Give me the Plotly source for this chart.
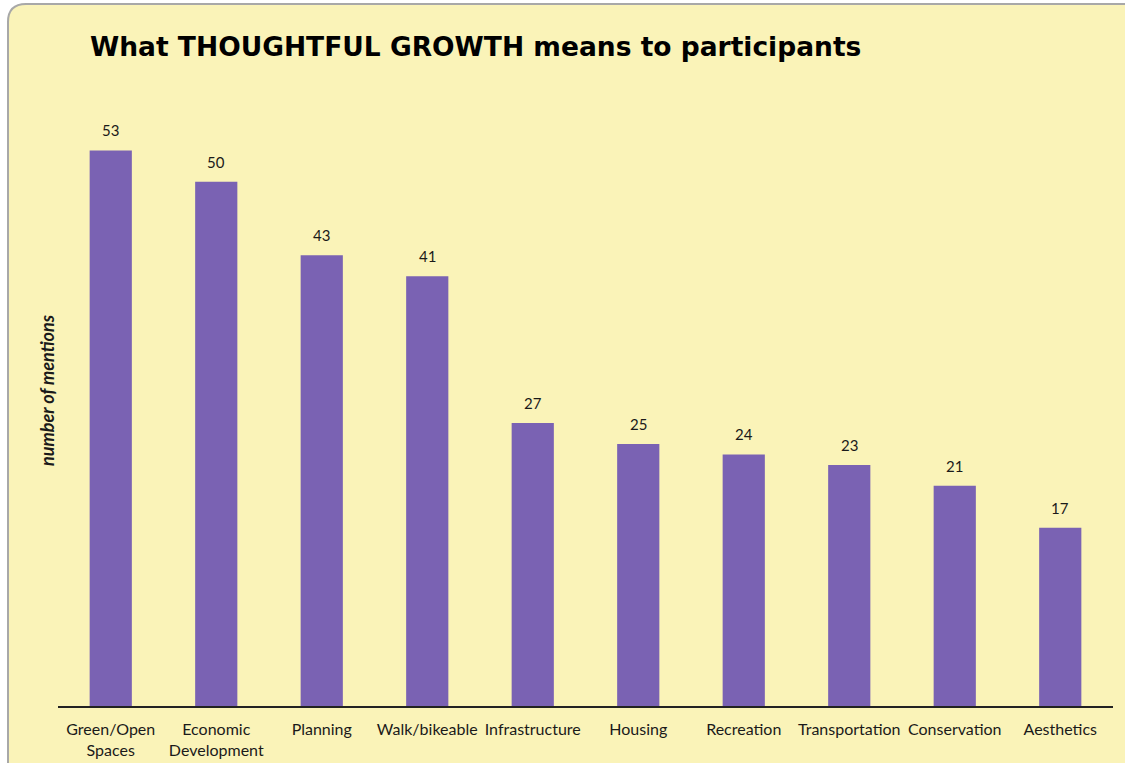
import plotly.graph_objects as go

categories = ["Green/Open<br>Spaces", "Economic<br>Development", "Planning", "Walk/bikeable",
              "Infrastructure", "Housing", "Recreation", "Transportation", "Conservation", "Aesthetics"]
mentions = [53, 50, 43, 41, 27, 25, 24, 23, 21, 17]

title_text = "What THOUGHTFUL GROWTH means to participants"
y_title = "number of mentions"

W, H = 1125, 763
L, R, T, B = 58, 12, 77, 57
pw, ph = W - L - R, H - T - B

def px(x):
    return (x - L) / pw

def py(y):
    return (H - B - y) / ph

FONT = "Lato, 'Open Sans', sans-serif"

fig = go.Figure(go.Bar(
    x=categories, y=mentions,
    marker=dict(color="#7A62B3", line=dict(width=0)),
    cliponaxis=False, hoverinfo="skip",
))

# value labels above bars
for c, v in zip(categories, mentions):
    fig.add_annotation(x=c, y=v, text=str(v), showarrow=False, xanchor="center",
                       yanchor="bottom", yshift=9,
                       font=dict(family=FONT, size=15, color="#1a1a1a"))

# rounded yellow panel
x0, y0, x1, y1 = px(8), py(4), px(W + 20), py(H + 20)
rx = 18 / pw
ry = 18 / ph
path = (f"M {x0},{y0 - ry} Q {x0},{y0} {x0 + rx},{y0} L {x1},{y0} L {x1},{y1} L {x0},{y1} Z")
fig.add_shape(type="path", path=path, xref="paper", yref="paper",
              fillcolor="#FAF3B8", line=dict(color="#A8A8A8", width=2), layer="below")

fig.add_annotation(text=f"<b>{title_text}</b>", xref="paper", yref="paper", x=px(88), y=py(47),
                   xanchor="left", yanchor="middle", showarrow=False,
                   font=dict(family="DejaVu Sans", size=26.5, color="black"))
fig.add_annotation(text=y_title, xref="paper", yref="paper", x=px(47), y=py(390),
                   xanchor="center", yanchor="middle", textangle=-90, showarrow=False,
                   font=dict(family="Lato", size=18, color="#1a1a1a", style="italic", weight="bold"))

fig.update_layout(
    width=W, height=H,
    margin=dict(l=L, r=R, t=T, b=B),
    paper_bgcolor="white", plot_bgcolor="rgba(0,0,0,0)",
    bargap=0.6, showlegend=False,
    font=dict(family=FONT, color="#1a1a1a"),
    xaxis=dict(showline=True, linecolor="#222222", linewidth=1.5, ticks="",
               tickfont=dict(size=16, family=FONT, color="#1a1a1a"),
               ticklabelstandoff=8, showgrid=False, automargin=False),
    yaxis=dict(range=[0, 60], visible=False, showgrid=False, automargin=False),
)

fig.write_html("out.html", config={"displayModeBar": False},
               post_script="document.body.style.margin='0';document.body.style.overflow='hidden';")
